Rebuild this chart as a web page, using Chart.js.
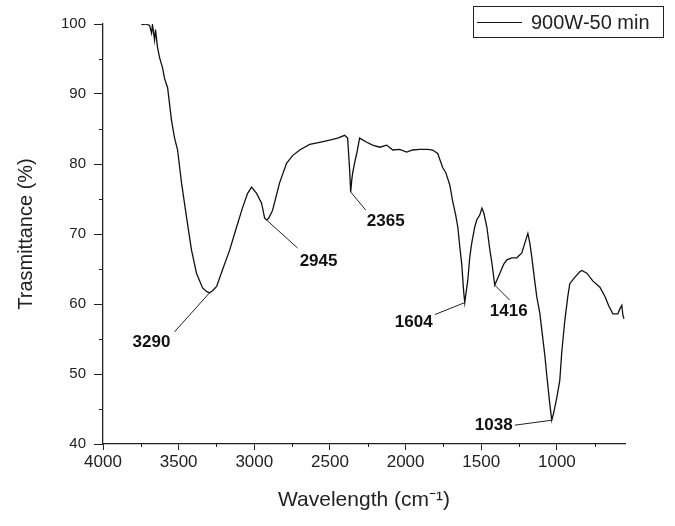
<!DOCTYPE html>
<html>
<head>
<meta charset="utf-8">
<script src="https://cdn.jsdelivr.net/npm/chart.js@4"></script>
<style>
  body { margin: 0; background: #fff; }
</style>
</head>
<body>
<canvas id="ftirChart" width="675" height="526"></canvas>
<script>
// wavenumber (cm-1) and transmittance (%)
const wavenumbers = [3746, 3719, 3692, 3679, 3673, 3659, 3653, 3640, 3626, 3606, 3593, 3573, 3547, 3527, 3507,
  3481, 3448, 3415, 3382, 3342, 3316, 3296, 3276, 3249, 3210, 3163, 3117, 3077, 3044, 3018,
  2985, 2952, 2932, 2919, 2906, 2879, 2833, 2787, 2747, 2700, 2634, 2568, 2502, 2449, 2403,
  2383, 2370, 2363, 2356, 2350, 2337, 2323, 2304, 2257, 2218, 2171, 2125, 2085, 2039, 1993,
  1953, 1907, 1854, 1821, 1788, 1755, 1735, 1708, 1689, 1669, 1655, 1642, 1629, 1616, 1609,
  1603, 1589, 1576, 1563, 1543, 1530, 1510, 1496, 1483, 1463, 1443, 1430, 1411, 1397, 1377,
  1351, 1331, 1298, 1265, 1232, 1212, 1192, 1179, 1166, 1146, 1133, 1113, 1100, 1080, 1066,
  1047, 1034, 1020, 1000, 981, 968, 948, 928, 915, 882, 849, 835, 802, 763, 716,
  683, 657, 630, 597, 584, 571, 564, 557];
const transmittance = [99.9, 100.0, 99.8, 98.7, 99.9, 97.7, 99.2, 96.7, 95.2, 93.7, 92.2, 90.9, 86.2, 83.7, 82.0,
  77.3, 72.4, 67.7, 64.4, 62.3, 61.8, 61.6, 61.9, 62.5, 64.9, 67.7, 71.0, 73.8, 75.8, 76.7,
  75.8, 74.4, 72.3, 72.0, 72.2, 73.4, 77.3, 80.1, 81.2, 82.0, 82.8, 83.1, 83.4, 83.7, 84.1,
  83.7, 79.2, 76.0, 77.7, 78.7, 80.2, 81.5, 83.7, 83.1, 82.7, 82.4, 82.7, 82.0, 82.1, 81.7,
  82.0, 82.1, 82.1, 82.0, 81.5, 79.5, 78.8, 77.0, 74.7, 72.7, 71.0, 68.2, 65.7, 61.7, 60.2,
  61.2, 63.4, 66.7, 68.7, 71.0, 72.0, 72.7, 73.7, 73.0, 71.0, 67.7, 65.9, 62.7, 63.4, 64.4,
  65.7, 66.3, 66.6, 66.6, 67.3, 68.7, 70.1, 68.7, 66.7, 63.2, 61.0, 58.7, 56.3, 52.7, 49.6,
  45.7, 43.4, 44.6, 46.7, 49.1, 53.1, 57.6, 61.1, 62.9, 63.8, 64.6, 64.8, 64.4, 63.3, 62.4,
  61.1, 59.7, 58.6, 58.6, 59.3, 59.8, 58.4, 57.9];

// axis ticks
const xMajorTicks = [4000, 3500, 3000, 2500, 2000, 1500, 1000];
const xMinorTicks = [3750, 3250, 2750, 2250, 1750, 1250, 750];
const yMajorTicks = [40, 50, 60, 70, 80, 90, 100];
const yMinorTicks = [45, 55, 65, 75, 85, 95];

// peak labels
const peakNames = ['3290', '2945', '2365', '1604', '1416', '1038'];
const peakX = [3296, 2919, 2363, 1609, 1411, 1034];
const peakY = [61.6, 72.0, 76.0, 60.2, 62.7, 43.4];

const seriesName = '900W-50 min';

const points = wavenumbers.map((w, i) => ({x: w, y: transmittance[i]}));

// pixel offsets of each label from its peak: [lineEndDx, lineEndDy, textDx, textDy]
const labelOffsets = [
  [-35, 39, -58, 50],
  [31, 28, 52, 41],
  [15, 18, 35, 29],
  [-30, 12, -51, 20],
  [15, 15, 14, 26],
  [-37, 5, -58, 5]
];

const peakLabels = {
  id: 'peakLabels',
  afterDatasetsDraw(chart) {
    const {ctx, scales} = chart;
    ctx.save();
    ctx.strokeStyle = '#222';
    ctx.lineWidth = 1;
    ctx.fillStyle = '#111';
    ctx.font = 'bold 17px "Liberation Sans", Arial, sans-serif';
    ctx.textBaseline = 'middle';
    ctx.textAlign = 'center';
    peakNames.forEach((name, i) => {
      const px = scales.x.getPixelForValue(peakX[i]);
      const py = scales.y.getPixelForValue(peakY[i]);
      const o = labelOffsets[i];
      ctx.beginPath();
      ctx.moveTo(px, py);
      ctx.lineTo(px + o[0], py + o[1]);
      ctx.stroke();
      ctx.fillText(name, px + o[2], py + o[3]);
    });
    ctx.restore();
  }
};

// short minor ticks
const minorTicks = {
  id: 'minorTicks',
  afterDraw(chart) {
    const {ctx, scales, chartArea} = chart;
    ctx.save();
    ctx.strokeStyle = '#222';
    ctx.lineWidth = 1;
    ctx.beginPath();
    xMinorTicks.forEach(v => {
      const x = Math.round(scales.x.getPixelForValue(v)) + 0.5;
      ctx.moveTo(x, chartArea.bottom);
      ctx.lineTo(x, chartArea.bottom + 3);
    });
    yMinorTicks.forEach(v => {
      const y = Math.round(scales.y.getPixelForValue(v)) + 0.5;
      ctx.moveTo(chartArea.left, y);
      ctx.lineTo(chartArea.left - 4, y);
    });
    ctx.stroke();
    ctx.restore();
  }
};

const boxLegend = {
  id: 'boxLegend',
  afterDraw(chart) {
    const ctx = chart.ctx;
    ctx.save();
    ctx.strokeStyle = '#222';
    ctx.lineWidth = 1;
    ctx.strokeRect(473.5, 6.5, 190, 31);
    ctx.beginPath();
    ctx.moveTo(477, 22.5);
    ctx.lineTo(522, 22.5);
    ctx.strokeStyle = '#111';
    ctx.stroke();
    ctx.fillStyle = '#222';
    ctx.font = '20px "Liberation Sans", Arial, sans-serif';
    ctx.textBaseline = 'middle';
    ctx.fillText(seriesName, 531, 23);
    ctx.restore();
  }
};

new Chart(document.getElementById('ftirChart'), {
  type: 'line',
  data: {
    datasets: [{
      label: seriesName,
      data: points,
      borderColor: '#111',
      borderWidth: 1.3,
      pointRadius: 0,
      tension: 0,
      fill: false
    }]
  },
  options: {
    responsive: false,
    animation: false,
    maintainAspectRatio: false,
    layout: {padding: {top: 24, right: 50, left: 0, bottom: 0}},
    plugins: {
      legend: {display: false},
      tooltip: {enabled: false}
    },
    scales: {
      x: {
        type: 'linear',
        reverse: true,
        min: 550,
        max: 4000,
        afterBuildTicks: (scale) => {
          scale.ticks = xMajorTicks.map(v => ({value: v}));
        },
        afterFit: (scale) => { scale.height = 82; },
        ticks: {
          autoSkip: false,
          maxRotation: 0,
          color: '#222',
          padding: 2,
          font: {family: '"Liberation Sans", Arial, sans-serif', size: 17},
          callback: (v) => String(v)
        },
        grid: {drawOnChartArea: false, drawTicks: true, tickLength: 6, tickColor: '#222'},
        border: {display: true, color: '#222', width: 1.3},
        title: {
          display: true,
          text: 'Wavelength (cm\u207B\u00B9)',
          color: '#222',
          font: {family: '"Liberation Sans", Arial, sans-serif', size: 21},
          padding: {top: 0, bottom: 13}
        }
      },
      y: {
        min: 40,
        max: 100,
        afterBuildTicks: (scale) => {
          scale.ticks = yMajorTicks.map(v => ({value: v}));
        },
        afterFit: (scale) => { scale.width = 103; },
        ticks: {
          autoSkip: false,
          color: '#222',
          padding: 8,
          font: {family: '"Liberation Sans", Arial, sans-serif', size: 15},
          callback: (v) => String(v)
        },
        grid: {drawOnChartArea: false, drawTicks: true, tickLength: 9, tickColor: '#222'},
        border: {display: true, color: '#222', width: 1.3},
        title: {
          display: true,
          text: 'Trasmittance (%)',
          color: '#222',
          font: {family: '"Liberation Sans", Arial, sans-serif', size: 20},
          padding: {top: 14, bottom: 0}
        }
      }
    }
  },
  plugins: [peakLabels, minorTicks, boxLegend]
});
</script>
</body>
</html>
